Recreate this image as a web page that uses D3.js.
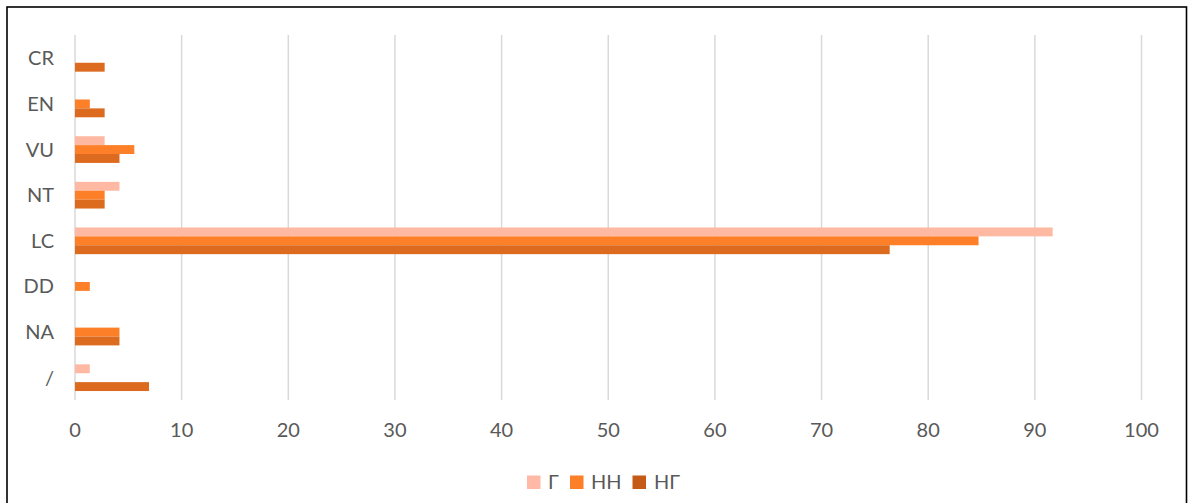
<!DOCTYPE html>
<html>
<head>
<meta charset="utf-8">
<script src="https://cdn.jsdelivr.net/npm/d3@7"></script>
<style>
  html, body { margin: 0; padding: 0; background: #fff; }
  svg { display: block; }
  text { font-family: Lato, "Open Sans", sans-serif; fill: #595959; }
</style>
</head>
<body>
<svg id="chart" width="1188" height="503"></svg>
<script>
// Data (percent of species per IUCN category)
const categories = ["CR", "EN", "VU", "NT", "LC", "DD", "NA", "/"];
const seriesNames = ["Г", "НН", "НГ"];
const valuesG  = [0,    0,    2.78, 4.17, 91.67, 0,    0,    1.39];
const valuesNN = [0,    1.39, 5.56, 2.78, 84.72, 1.39, 4.17, 0];
const valuesNG = [2.78, 2.78, 4.17, 2.78, 76.39, 0,    4.17, 6.94];
const xTicks = [0, 10, 20, 30, 40, 50, 60, 70, 80, 90, 100];

const barColors = ["#FFB9A3", "#FD7F27", "#DC6A1F"];
const legendColors = ["#FFB9A6", "#FD7F27", "#C55A17"];

const seriesValues = [valuesG, valuesNN, valuesNG];

const svg = d3.select("#chart");

// frame
svg.append("rect")
  .attr("x", 7).attr("y", 7)
  .attr("width", 1179.5).attr("height", 520)
  .attr("fill", "none").attr("stroke", "#000").attr("stroke-width", 1.6);

const x = d3.scaleLinear().domain([0, 100]).range([75, 1141.5]);
const y0 = d3.scaleBand().domain(categories).range([35.5, 400.5])
  .paddingInner(0.415).paddingOuter(0.2075);
const y1 = d3.scaleBand().domain(seriesNames).range([0, y0.bandwidth()]);

// gridlines
svg.append("g").selectAll("line").data(xTicks).join("line")
  .attr("x1", d => x(d)).attr("x2", d => x(d))
  .attr("y1", 35).attr("y2", 400)
  .attr("stroke", "#D9D9D9").attr("stroke-width", 1.5);

// x tick labels
svg.append("g").selectAll("text").data(xTicks).join("text")
  .attr("x", d => x(d)).attr("y", 437)
  .attr("text-anchor", "middle")
  .attr("font-size", 20)
  .text(d => d);

// category labels
svg.append("g").selectAll("text").data(categories).join("text")
  .attr("x", 54).attr("y", d => y0(d) + y0.bandwidth() / 2 + 7)
  .attr("text-anchor", "end")
  .attr("font-size", 20)
  .text(d => d);

// bars
seriesNames.forEach((s, si) => {
  svg.append("g").selectAll("rect").data(categories).join("rect")
    .attr("x", x(0))
    .attr("y", c => y0(c) + y1(s))
    .attr("width", (c, i) => Math.max(0, x(seriesValues[si][i]) - x(0)))
    .attr("height", y1.bandwidth())
    .attr("fill", barColors[si])
    .attr("display", (c, i) => seriesValues[si][i] > 0 ? null : "none");
});

// legend
const legendItems = [
  { name: "Г", sq: 527, tx: 548 },
  { name: "НН", sq: 570, tx: 591 },
  { name: "НГ", sq: 632.5, tx: 654 }
];
const lg = svg.append("g");
legendItems.forEach((d, i) => {
  lg.append("rect").attr("x", d.sq).attr("y", 475.5)
    .attr("width", 13.5).attr("height", 13.5).attr("fill", legendColors[i]);
  lg.append("text").attr("x", d.tx).attr("y", 489)
    .attr("font-size", 20).text(d.name);
});
</script>
</body>
</html>
